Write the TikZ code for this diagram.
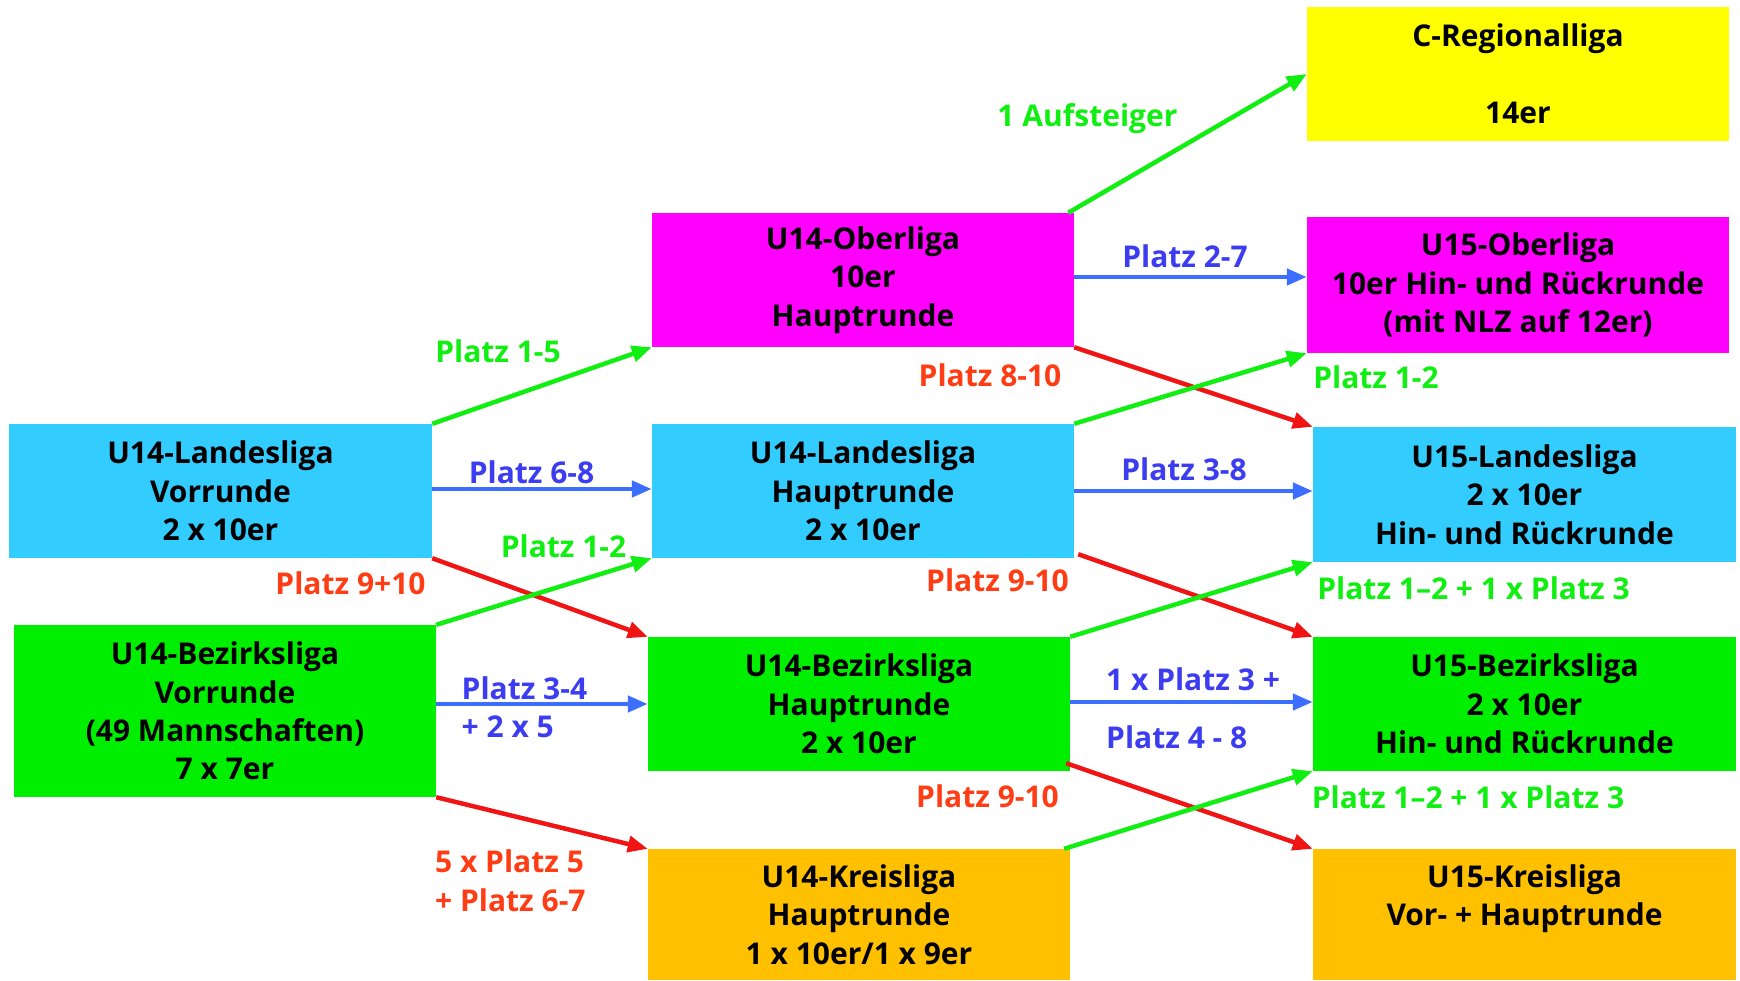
\documentclass[tikz,border=0pt]{standalone}
\usepackage{fontspec}
\setmainfont{Open Sans}
\usetikzlibrary{arrows.meta}
\definecolor{bcyan}{HTML}{33CCFF}
\definecolor{bmag}{HTML}{FF00FF}
\definecolor{bgreen}{HTML}{00EE00}
\definecolor{byellow}{HTML}{FFFF00}
\definecolor{borange}{HTML}{FFC000}
\definecolor{agreen}{HTML}{11EE11}
\definecolor{ablue}{HTML}{3C6EFF}
\definecolor{tblue}{HTML}{3C3CF0}
\definecolor{ared}{HTML}{F01414}
\definecolor{tred}{HTML}{FF3C14}
\begin{document}
\begin{tikzpicture}[x=1pt,y=-1pt,
  box/.style={rectangle, inner sep=0pt, minimum width=422pt, minimum height=134pt,
    align=center, font=\fontsize{30}{38.3}\selectfont\bfseries, text=black},
  lbl/.style={inner sep=0pt, align=left, font=\fontsize{30}{38}\selectfont\bfseries},
  con/.style={line width=4.5pt, -{Triangle[length=20pt,width=16pt]}},
  gcon/.style={con, draw=agreen},
  bcon/.style={con, draw=ablue},
  rcon/.style={con, draw=ared}]
\useasboundingbox (0,0) rectangle (1740,980);
% boxes
\node[box, fill=byellow] (creg) at (1518,74) {C-Regionalliga\\\mbox{}\\14er};
\node[box, fill=bmag] (u14o) at (863,280) {U14-Oberliga\\10er\\Hauptrunde};
\node[box, fill=bmag, minimum height=136pt] (u15o) at (1518,285) {U15-Oberliga\\10er Hin- und Rückrunde\\(mit NLZ auf 12er)};
\node[box, fill=bcyan, minimum width=423pt] (u14lv) at (220.5,491) {U14-Landesliga\\Vorrunde\\2 x 10er};
\node[box, fill=bcyan] (u14lh) at (863,491) {U14-Landesliga\\Hauptrunde\\2 x 10er};
\node[box, fill=bcyan, minimum width=423pt, minimum height=135pt] (u15l) at (1524.5,494.5) {U15-Landesliga\\2 x 10er\\Hin- und Rückrunde};
\node[box, fill=bgreen, minimum height=172pt] (u14bv) at (225,711) {U14-Bezirksliga\\Vorrunde\\(49 Mannschaften)\\7 x 7er};
\node[box, fill=bgreen] (u14bh) at (859,704) {U14-Bezirksliga\\Hauptrunde\\2 x 10er};
\node[box, fill=bgreen, minimum width=423pt] (u15b) at (1524.5,704) {U15-Bezirksliga\\2 x 10er\\Hin- und Rückrunde};
\node[box, fill=borange, minimum height=131pt] (u14k) at (859,914.5) {U14-Kreisliga\\Hauptrunde\\1 x 10er/1 x 9er};
\node[box, fill=borange, minimum width=423pt, minimum height=131pt] (u15k) at (1524.5,914.5) {U15-Kreisliga\\Vor- + Hauptrunde\\\mbox{}};
% labels
\node[lbl, text=agreen] (l1) at (1087.5,119) {1 Aufsteiger};
\node[lbl, text=tblue] (l2) at (1185,256) {Platz 2-7};
\node[lbl, text=tred] (l3) at (990,375) {Platz 8-10};
\node[lbl, text=agreen] (l4) at (1376,377) {Platz 1-2};
\node[lbl, text=tblue] (l5) at (1184,469) {Platz 3-8};
\node[lbl, text=tred] (l6) at (997.5,580) {Platz 9-10};
\node[lbl, text=agreen] (l7) at (1473.5,588) {Platz 1–2 + 1 x Platz 3};
\node[lbl, text=tblue, anchor=west] (l8a) at (1106,679) {1 x Platz 3 +};
\node[lbl, text=tblue, anchor=west] (l8b) at (1106,737) {Platz 4 - 8};
\node[lbl, text=tred] (l9) at (987.5,796) {Platz 9-10};
\node[lbl, text=agreen] (l10) at (1468,797) {Platz 1–2 + 1 x Platz 3};
\node[lbl, text=agreen] (l11) at (498,351) {Platz 1-5};
\node[lbl, text=tblue] (l12) at (531.5,472) {Platz 6-8};
\node[lbl, text=tred] (l13) at (350.5,583) {Platz 9+10};
\node[lbl, text=agreen] (l14) at (563.5,546) {Platz 1-2};
\node[lbl, text=tblue, anchor=west] (l15a) at (461.5,688) {Platz 3-4};
\node[lbl, text=tblue, anchor=west] (l15b) at (461.5,727) {+ 2 x 5};
\node[lbl, text=tred, anchor=west] (l16a) at (435,861) {5 x Platz 5};
\node[lbl, text=tred, anchor=west] (l16b) at (435,900) {+ Platz 6-7};
% connectors
\draw[gcon] ([xshift=-6pt]u14o.north east) -- (creg.west);
\draw[bcon] ([yshift=3pt]u14o.east) -- ([yshift=3pt]u14o.east -| u15o.west);
\draw[rcon] (u14o.south east) -- (u15l.north west);
\draw[gcon] (u14lh.north east) -- (u15o.south west);
\draw[bcon] (u14lh.east) -- (u14lh.east -| u15l.west);
\draw[rcon] ([xshift=4pt,yshift=4pt]u14lh.south east) -- (u15b.north west);
\draw[gcon] (u14bh.north east) -- (u15l.south west);
\draw[bcon] ([yshift=2pt]u14bh.east) -- ([yshift=2pt]u14bh.east -| u15b.west);
\draw[rcon] ([xshift=-4pt,yshift=8pt]u14bh.south east) -- (u15k.north west);
\draw[gcon] ([xshift=-6pt]u14k.north east) -- (u15b.south west);
\draw[gcon] (u14lv.north east) -- (u14o.south west);
\draw[bcon] ([yshift=2pt]u14lv.east) -- ([yshift=2pt]u14lv.east -| u14lh.west);
\draw[rcon] (u14lv.south east) -- (u14bh.north west);
\draw[gcon] (u14bv.north east) -- (u14lh.south west);
\draw[bcon] (u14bv.east |- u14bh.west) -- (u14bh.west);
\draw[rcon] (u14bv.south east) -- (u14k.north west);
\end{tikzpicture}
\end{document}
